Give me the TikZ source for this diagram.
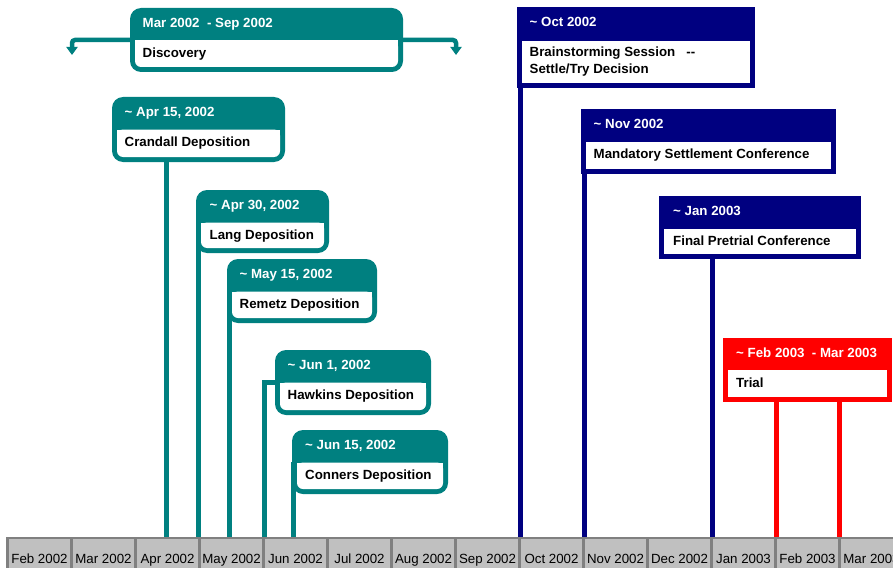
\documentclass[tikz,border=0pt]{standalone}
\usepackage{fontspec}
\setmainfont{Liberation Sans}
\usepackage{tikz}
\usetikzlibrary{arrows.meta}
\definecolor{tealc}{RGB}{0,128,128}
\definecolor{navyc}{RGB}{0,0,128}
\definecolor{redc}{RGB}{255,0,0}
\definecolor{barfill}{RGB}{192,192,192}
\definecolor{barline}{RGB}{128,128,128}
\tikzset{
  roundbox/.style={fill=#1, rounded corners=11pt, anchor=north west, inner sep=0pt, outer sep=0pt,
    path picture={
      \fill[white, rounded corners=6pt] ([shift={(5pt,-32.5pt)}]path picture bounding box.north west) rectangle ([shift={(-5pt,5pt)}]path picture bounding box.south east);
      \fill[white, sharp corners] ([shift={(5pt,-32.5pt)}]path picture bounding box.north west) rectangle ([shift={(-5pt,-40.5pt)}]path picture bounding box.north east);}},
  squarebox/.style 2 args={fill=#1, anchor=north west, inner sep=0pt, outer sep=0pt,
    path picture={
      \fill[white] ([shift={(5pt,-#2)}]path picture bounding box.north west) rectangle ([shift={(-5pt,5pt)}]path picture bounding box.south east);}},
  datetxt/.style={anchor=base west, inner sep=0pt, text=white, font=\bfseries\fontsize{13.3}{17}\selectfont},
  eventtxt/.style={anchor=base west, inner sep=0pt, align=left, font=\bfseries\fontsize{13.3}{17}\selectfont},
  month/.style={draw=barline, fill=barfill, line width=2.5pt, anchor=north west, minimum width=64pt, minimum height=40pt,
    inner sep=0pt, outer sep=0pt, text height=10pt, text depth=0pt, font=\fontsize{13.3}{16}\selectfont},
  stemline/.style={draw=#1, line width=5pt},
}
\begin{document}
\begin{tikzpicture}[x=1pt, y=-1pt]
\useasboundingbox (0,0) rectangle (893,567);
\coordinate (apr15) at (166,538); %时间轴上的日期点
\coordinate (apr30) at (198.5,538);
\coordinate (may15) at (229,538);
\coordinate (jun1) at (264.5,538);
\coordinate (jun15) at (293.5,538);
\coordinate (oct02) at (520,538);
\coordinate (nov02) at (584,538);
\coordinate (jan03) at (712,538);
\coordinate (feb03) at (776,538);
\coordinate (mar03) at (839,538);
\coordinate (discl) at (72,55); %Discovery 两端
\coordinate (discr) at (456,55);
\node[roundbox=tealc, minimum width=273pt, minimum height=64pt] (disc) at (130,8) {}; %事件框
\node[roundbox=tealc, minimum width=173pt, minimum height=65pt] (crandall) at (112,97) {};
\node[roundbox=tealc, minimum width=133pt, minimum height=63pt] (lang) at (196,190) {};
\node[roundbox=tealc, minimum width=150pt, minimum height=64pt] (remetz) at (227,259) {};
\node[roundbox=tealc, minimum width=156pt, minimum height=65pt] (hawkins) at (275,350) {};
\node[roundbox=tealc, minimum width=156pt, minimum height=64pt] (conners) at (292,430) {};
\node[squarebox={navyc}{34pt}, minimum width=238pt, minimum height=81pt] (brain) at (517,7) {};
\node[squarebox={navyc}{33pt}, minimum width=255pt, minimum height=65pt] (mandatory) at (581,109) {};
\node[squarebox={navyc}{33pt}, minimum width=202pt, minimum height=63pt] (pretrial) at (659,196) {};
\node[squarebox={redc}{32pt}, minimum width=169pt, minimum height=64pt] (trial) at (723,338) {};
\draw[stemline=tealc, line width=4.5pt, rounded corners=3pt, -{Triangle[width=11pt,length=8pt]}] (disc.west) -| (discl);
\draw[stemline=tealc, line width=4.5pt, rounded corners=3pt, -{Triangle[width=11pt,length=8pt]}] (disc.east) -| (discr);
\draw[stemline=tealc] (crandall.south -| apr15) -- (apr15); %竖线
\draw[stemline=tealc] (lang.west -| apr30) -- (apr30);
\draw[stemline=tealc] (remetz.west -| may15) -- (may15);
\draw[stemline=tealc] (jun1) |- (hawkins.west);
\draw[stemline=tealc] (conners.west -| jun15) -- (jun15);
\draw[stemline=navyc] (brain.south -| oct02) -- (oct02);
\draw[stemline=navyc] (mandatory.south -| nov02) -- (nov02);
\draw[stemline=navyc] (pretrial.south -| jan03) -- (jan03);
\draw[stemline=redc] (trial.south -| feb03) -- (feb03);
\draw[stemline=redc] (trial.south -| mar03) -- (mar03);
\node[datetxt] (disc1) at (142.5,27.5) {Mar 2002\ \ - Sep 2002}; %文字
\node[eventtxt] (disc2) at (142.5,57.5) {Discovery};
\node[datetxt] (crandall1) at (124.5,116.5) {\textasciitilde\ Apr 15, 2002};
\node[eventtxt] (crandall2) at (124.5,146.5) {Crandall Deposition};
\node[datetxt] (lang1) at (209.5,209.5) {\textasciitilde\ Apr 30, 2002};
\node[eventtxt] (lang2) at (209.5,239.5) {Lang Deposition};
\node[datetxt] (remetz1) at (239.5,278.5) {\textasciitilde\ May 15, 2002};
\node[eventtxt] (remetz2) at (239.5,308.5) {Remetz Deposition};
\node[datetxt] (hawkins1) at (287.5,369.5) {\textasciitilde\ Jun 1, 2002};
\node[eventtxt] (hawkins2) at (287.5,399.5) {Hawkins Deposition};
\node[datetxt] (conners1) at (305,449.5) {\textasciitilde\ Jun 15, 2002};
\node[eventtxt] (conners2) at (305,479.5) {Conners Deposition};
\node[datetxt] (brain1) at (529.5,26.5) {\textasciitilde\ Oct 2002};
\node[eventtxt] (brain2) at (529.5,73.5) {Brainstorming Session\ \ \ -{}-\\Settle/Try Decision};
\node[datetxt] (mandatory1) at (593.5,128.5) {\textasciitilde\ Nov 2002};
\node[eventtxt] (mandatory2) at (593.5,158.5) {Mandatory Settlement Conference};
\node[datetxt] (pretrial1) at (673,215.5) {\textasciitilde\ Jan 2003};
\node[eventtxt] (pretrial2) at (673,245.5) {Final Pretrial Conference};
\node[datetxt] (trial1) at (736,357.5) {\textasciitilde\ Feb 2003\ \ - Mar 2003};
\node[eventtxt] (trial2) at (736,387.5) {Trial};
\node[month] (b1) at (7.5,538) {Feb 2002}; %时间轴
\node[month] (b2) at (71.5,538) {Mar 2002};
\node[month] (b3) at (135.5,538) {Apr 2002};
\node[month] (b4) at (199.5,538) {May 2002};
\node[month] (b5) at (263.5,538) {Jun 2002};
\node[month] (b6) at (327.5,538) {Jul 2002};
\node[month] (b7) at (391.5,538) {Aug 2002};
\node[month] (b8) at (455.5,538) {Sep 2002};
\node[month] (b9) at (519.5,538) {Oct 2002};
\node[month] (b10) at (583.5,538) {Nov 2002};
\node[month] (b11) at (647.5,538) {Dec 2002};
\node[month] (b12) at (711.5,538) {Jan 2003};
\node[month] (b13) at (775.5,538) {Feb 2003};
\node[month] (b14) at (839.5,538) {Mar 2003};
\end{tikzpicture}
\end{document}
